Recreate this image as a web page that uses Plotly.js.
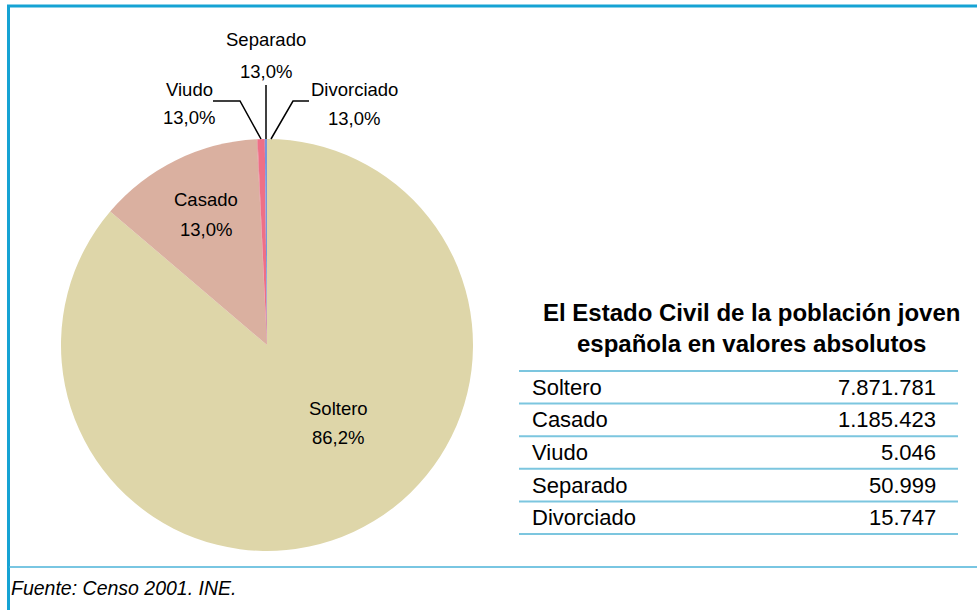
<!DOCTYPE html>
<html>
<head>
<meta charset="utf-8">
<script src="https://cdn.plot.ly/plotly-3.0.1.min.js"></script>
<style>
html,body{margin:0;padding:0;background:#fff;}
#chart{width:977px;height:610px;}
</style>
</head>
<body>
<div id="chart"></div>
<script>
// ---- data ----
var categories = ['Soltero', 'Casado', 'Viudo', 'Separado', 'Divorciado'];
var absoluteValues = [7871781, 1185423, 5046, 50999, 15747];
var valueLabels = ['7.871.781', '1.185.423', '5.046', '50.999', '15.747'];
var pctLabels = ['86,2%', '13,0%', '13,0%', '13,0%', '13,0%'];
var tableTitle = 'El Estado Civil de la población joven<br>española en valores absolutos';
var sourceText = 'Fuente: Censo 2001. INE.';

// ---- styling ----
var sliceColors = ['#ded6a9', '#dab0a0', '#e07e8c', '#ee6f86', '#7896dc'];
var W = 977, H = 610;
function px(x){ return x / W; }
function py(y){ return 1 - y / H; }

var pieFont = {family: 'Liberation Sans, Arial, sans-serif', size: 18.5, color: '#000'};
var tableFont = {family: 'Liberation Sans, Arial, sans-serif', size: 22, color: '#000'};

var trace = {
  type: 'pie',
  labels: categories,
  values: absoluteValues,
  sort: false,
  direction: 'clockwise',
  rotation: 0,
  textinfo: 'none',
  hoverinfo: 'label+value+percent',
  marker: {colors: sliceColors, line: {width: 0}},
  domain: {x: [px(61), px(473)], y: [py(551), py(139)]},
  showlegend: false
};

// label placement for pie labels (name above, percentage below)
var labelPos = [[338, 408, 437], [206, 200, 229], [189, 90, 117], [266, 40, 71], [354, 90, 118]];
var annotations = [];
for (var i = 0; i < categories.length; i++) {
  annotations.push({xref: 'paper', yref: 'paper', x: px(labelPos[i][0]), y: py(labelPos[i][1]),
    text: categories[i], showarrow: false, xanchor: 'center', yanchor: 'middle', font: pieFont});
  annotations.push({xref: 'paper', yref: 'paper', x: px(labelPos[i][0]), y: py(labelPos[i][2]),
    text: pctLabels[i], showarrow: false, xanchor: 'center', yanchor: 'middle', font: pieFont});
}

// table title
annotations.push({xref: 'paper', yref: 'paper', x: px(751), y: py(328), text: '<b>' + tableTitle + '</b>',
  showarrow: false, xanchor: 'center', yanchor: 'middle', align: 'center',
  font: {family: 'Liberation Sans, Arial, sans-serif', size: 24, color: '#000'}});

// table rows
var rowTop = 371, rowH = 32.6;
var shapes = [];
for (var r = 0; r < categories.length; r++) {
  var yc = rowTop + rowH * (r + 0.5);
  annotations.push({xref: 'paper', yref: 'paper', x: px(530), y: py(yc), text: categories[r],
    showarrow: false, xanchor: 'left', yanchor: 'middle', font: tableFont});
  annotations.push({xref: 'paper', yref: 'paper', x: px(938), y: py(yc), text: valueLabels[r],
    showarrow: false, xanchor: 'right', yanchor: 'middle', font: tableFont});
}
for (var k = 0; k <= categories.length; k++) {
  var yl = rowTop + rowH * k;
  shapes.push({type: 'line', xref: 'paper', yref: 'paper', x0: px(519), x1: px(958), y0: py(yl), y1: py(yl),
    line: {color: '#7cc6df', width: 2}});
}

// source
annotations.push({xref: 'paper', yref: 'paper', x: px(9), y: py(588), text: '<i>' + sourceText + '</i>',
  showarrow: false, xanchor: 'left', yanchor: 'middle',
  font: {family: 'Liberation Sans Narrow, Liberation Sans, Arial, sans-serif', size: 19.5, color: '#000'}});

// frame
shapes.push({type: 'line', xref: 'paper', yref: 'paper', x0: px(7), x1: 1, y0: py(6), y1: py(6), line: {color: '#16a3d4', width: 3}});
shapes.push({type: 'line', xref: 'paper', yref: 'paper', x0: px(8.5), x1: px(8.5), y0: py(5), y1: 0, line: {color: '#16a3d4', width: 3}});
shapes.push({type: 'line', xref: 'paper', yref: 'paper', x0: px(9), x1: 1, y0: py(567), y1: py(567), line: {color: '#4db3d9', width: 1.5}});

// leader lines for the small slices
var leader = {color: '#000', width: 1.5};
shapes.push({type: 'path', xref: 'paper', yref: 'paper',
  path: 'M' + px(213) + ',' + py(101) + ' L' + px(240) + ',' + py(101) + ' L' + px(261) + ',' + py(139), line: leader});
shapes.push({type: 'line', xref: 'paper', yref: 'paper', x0: px(266), x1: px(266), y0: py(85), y1: py(139), line: leader});
shapes.push({type: 'path', xref: 'paper', yref: 'paper',
  path: 'M' + px(309) + ',' + py(101) + ' L' + px(293) + ',' + py(101) + ' L' + px(271) + ',' + py(139), line: leader});

var layout = {
  width: W, height: H,
  margin: {l: 0, r: 0, t: 0, b: 0},
  paper_bgcolor: '#ffffff',
  plot_bgcolor: '#ffffff',
  xaxis: {visible: false, range: [0, 1]},
  yaxis: {visible: false, range: [0, 1]},
  annotations: annotations,
  shapes: shapes,
  showlegend: false
};

Plotly.newPlot('chart', [trace], layout, {displayModeBar: false, staticPlot: true});
</script>
</body>
</html>
